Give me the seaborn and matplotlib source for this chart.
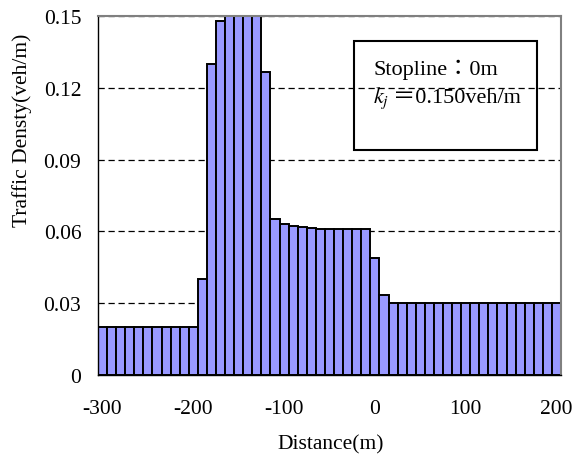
import matplotlib
matplotlib.use("Agg")
import matplotlib.pyplot as plt
import seaborn as sns
from matplotlib.patches import Rectangle

# ---- data ----
distance = [-300, -290, -280, -270, -260, -250, -240, -230, -220, -210, -200,
            -190, -180, -170, -160, -150, -140, -130, -120, -110, -100,
            -90, -80, -70, -60, -50, -40, -30, -20, -10, 0,
            10, 20, 30, 40, 50, 60, 70, 80, 90, 100,
            110, 120, 130, 140, 150, 160, 170, 180, 190, 200]
density = [0.020, 0.020, 0.020, 0.020, 0.020, 0.020, 0.020, 0.020, 0.020, 0.020, 0.020,
           0.040, 0.130, 0.148, 0.150, 0.150, 0.150, 0.150, 0.1265, 0.065, 0.063,
           0.0624, 0.0620, 0.0616, 0.0612, 0.0611, 0.061, 0.061, 0.061, 0.061, 0.049,
           0.0334, 0.030, 0.030, 0.030, 0.030, 0.030, 0.030, 0.030, 0.030, 0.030,
           0.030, 0.030, 0.030, 0.030, 0.030, 0.030, 0.030, 0.030, 0.030, 0.030]
x_ticks = [-300, -200, -100, 0, 100, 200]
y_ticks = [0, 0.03, 0.06, 0.09, 0.12, 0.15]
y_tick_labels = ["0", "0.03", "0.06", "0.09", "0.12", "0.15"]
x_label = "Distance(m)"
y_label = "Traffic Densty(veh/m)"
note_line1 = "Stopline：0m"
note_k = r"$k_j$"
note_line2 = "＝0.150veh/m"

sns.set_style("white")
plt.rcParams['font.family'] = ['Liberation Serif', 'Noto Sans CJK JP']
plt.rcParams['mathtext.fontset'] = 'stix'
plt.rcParams['text.color'] = 'black'
plt.rcParams['xtick.color'] = 'black'
plt.rcParams['ytick.color'] = 'black'

FS = 15.5
W, H = 574, 456
fig = plt.figure(figsize=(W / 100, H / 100), dpi=100)
ax = fig.add_axes([98 / W, 1 - 376 / H, 463 / W, 359 / H])

sns.barplot(x=distance, y=density, native_scale=True, width=1.0,
            color='#9999FF', saturation=1, edgecolor='black', linewidth=1.4,
            ax=ax, zorder=2)

ax.set_xlim(-305, 205)
ax.set_ylim(0, 0.15)
ax.set_xticks(x_ticks)
ax.set_xticklabels([str(v) for v in x_ticks])
ax.set_yticks(y_ticks)
ax.set_yticklabels(y_tick_labels)
ax.set_xlabel("")
ax.set_ylabel("")
ax.tick_params(axis='y', direction='in', length=3, width=1, color='black',
               labelcolor='black', labelsize=FS, pad=12)
ax.tick_params(axis='x', length=0, labelsize=FS, labelcolor='black', pad=17)

ax.set_axisbelow(True)
ax.yaxis.grid(True, linestyle=(0, (5, 3)), color='black', linewidth=0.9)
ax.xaxis.grid(False)

for s in ['left', 'bottom']:
    ax.spines[s].set_color('black')
    ax.spines[s].set_linewidth(1.0)
for s in ['top', 'right']:
    ax.spines[s].set_color('#808080')
    ax.spines[s].set_linewidth(1.5)

# annotation box
ax.add_patch(Rectangle((0.553, 0.627), 0.395, 0.303, transform=ax.transAxes,
                       fill=False, edgecolor='black', linewidth=1.5, zorder=5))
ax.text(0.594, 0.852, note_line1, transform=ax.transAxes, fontsize=16,
        ha='left', va='center', color='black', zorder=6)
ax.text(0.594, 0.774, note_k, transform=ax.transAxes, fontsize=16,
        ha='left', va='center', color='black', zorder=6)
ax.text(0.638, 0.774, note_line2, transform=ax.transAxes, fontsize=16,
        ha='left', va='center', color='black', zorder=6)

fig.text(331 / W, 1 - 445 / H, x_label, fontsize=FS, ha='center', va='center',
         color='black')
fig.text(22 / W, 1 - 130 / H, y_label, fontsize=FS, rotation=90,
         ha='center', va='center', color='black')

fig.savefig("out.png", dpi=100)
